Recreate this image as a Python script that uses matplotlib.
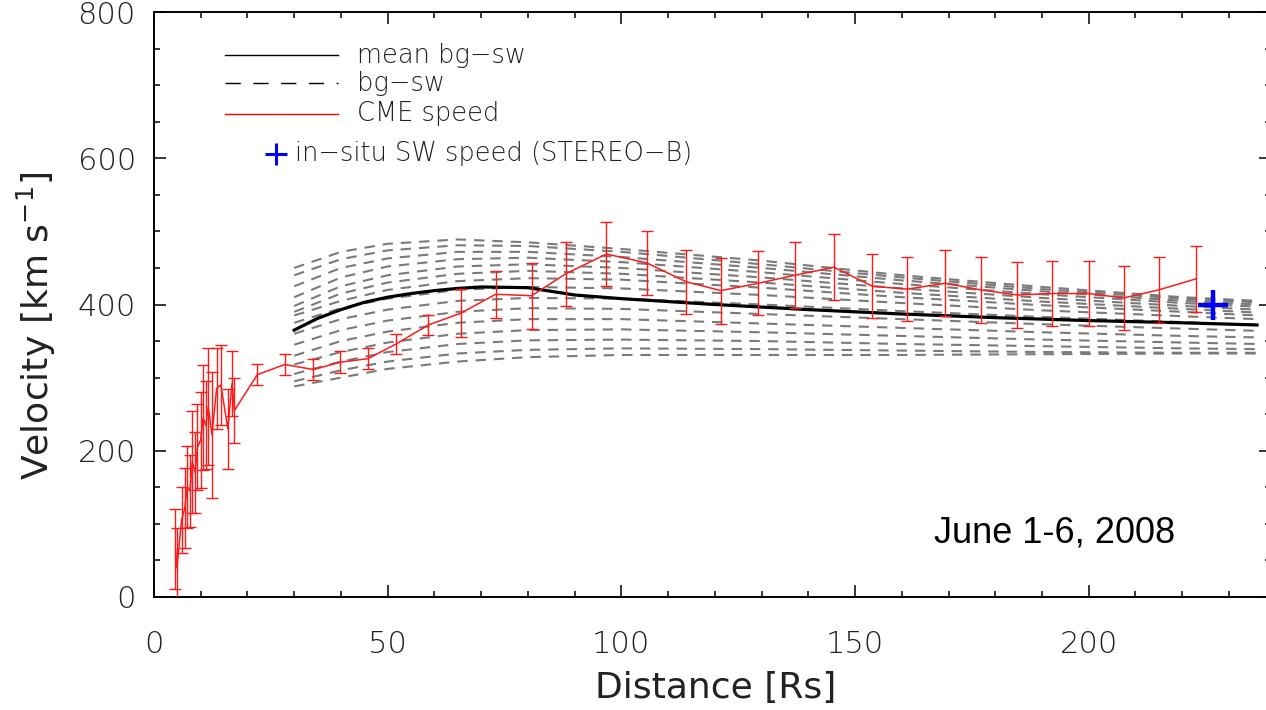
import matplotlib
matplotlib.use("Agg")
import matplotlib.pyplot as plt
from matplotlib.lines import Line2D
from matplotlib.ticker import MultipleLocator

plt.rcParams['font.family'] = ['DejaVu Sans']
plt.rcParams['font.weight'] = 'light'
plt.rcParams['mathtext.default'] = 'regular'

# Background solar-wind model runs (distance in Rs, speed in km/s)
bg_dist = [30, 40, 50, 65, 80, 100, 130, 160, 190, 220, 236]
bg_runs = [
    [450, 472, 483, 489, 485, 476, 460, 440, 424, 410, 405],
    [440, 462, 474, 481, 480, 472, 455, 437, 421, 408, 403],
    [425, 450, 463, 472, 472, 465, 450, 433, 418, 405, 400],
    [410, 437, 452, 462, 464, 458, 444, 428, 414, 402, 397],
    [398, 425, 440, 452, 455, 450, 437, 422, 409, 398, 393],
    [390, 415, 430, 442, 446, 442, 430, 416, 404, 394, 389],
    [385, 405, 420, 432, 436, 434, 423, 410, 399, 390, 385],
    [375, 395, 408, 420, 424, 422, 413, 402, 392, 384, 380],
    [360, 380, 393, 405, 409, 408, 400, 391, 383, 376, 372],
    [345, 365, 378, 390, 395, 394, 387, 380, 373, 367, 364],
    [330, 350, 363, 375, 380, 380, 374, 368, 362, 357, 355],
    [318, 335, 348, 360, 365, 366, 362, 357, 352, 348, 346],
    [305, 322, 335, 346, 351, 352, 350, 346, 343, 340, 339],
    [295, 310, 322, 333, 338, 340, 339, 337, 335, 334, 334],
    [288, 300, 312, 322, 328, 331, 331, 331, 332, 333, 333],
]

# Mean background solar wind
mean_dist = [30, 35, 40, 45, 50, 55, 60, 65, 70, 80, 85, 90, 100, 120, 140, 160, 180, 200, 220, 236]
mean_vel = [365, 381, 393, 403, 410, 415, 419, 422, 424, 423, 418, 413, 408, 400, 393, 387, 382, 378, 375, 372]

# CME speed profile with uncertainties
cme_dist = [4.6, 4.9, 5.9, 6.6, 7.1, 7.7, 8.2, 8.8, 9.3, 10.0, 10.5, 11.1, 11.6, 12.4,
            13.4, 14.3, 15.8, 16.7, 17.2, 22.1, 28.0, 34.1, 39.8, 45.8, 51.8, 58.7,
            65.6, 73.1, 80.8, 88.1, 96.8, 105.4, 113.9, 121.3, 129.3, 137.1, 145.5,
            153.7, 161.1, 169.3, 176.9, 184.7, 192.2, 200.0, 207.5, 215.0, 222.9]
cme_vel = [66, 40, 105, 122, 150, 145, 185, 170, 205, 215, 245, 235, 260, 222,
           285, 290, 230, 292, 255, 304, 318, 311, 321, 326, 346, 372,
           388, 414, 412, 442, 469, 457, 431, 419, 429, 440, 451,
           425, 421, 429, 420, 413, 415, 415, 409, 420, 435]
cme_err = [55, 54, 45, 55, 56, 49, 70, 55, 59, 66, 72, 60, 80, 86,
           55, 55, 55, 45, 45, 14, 14, 14, 15, 14, 13.5, 14,
           33, 32, 45, 44, 44, 44, 44, 45, 44, 45, 45,
           44, 44, 45, 45, 45, 45, 45, 44, 45, 45]

# In-situ measurement from STEREO-B
insitu_dist = [226.6]
insitu_vel = [400]

W, H = 1266, 710
fig = plt.figure(figsize=(W / 100, H / 100), dpi=100)
ax = fig.add_axes([154 / W, 113 / H, 1117 / W, 585 / H])

for run in bg_runs:
    ax.plot(bg_dist, run, color='#7a7a7a', lw=1.5, dashes=(5.0, 3.8), zorder=1)
ax.plot(mean_dist, mean_vel, color='black', lw=2.3, zorder=2)
ax.errorbar(cme_dist, cme_vel, yerr=cme_err, color='#ff1a1a', lw=1.1,
            elinewidth=1.0, capsize=4, capthick=1.0, zorder=3)
ax.plot(insitu_dist, insitu_vel, marker='+', color='#0000ff', ms=22, mew=3.2,
        ls='none', zorder=4)

ax.set_xlim(0, 239)
ax.set_ylim(0, 800)
ax.xaxis.set_major_locator(MultipleLocator(50))
ax.xaxis.set_minor_locator(MultipleLocator(10))
ax.yaxis.set_major_locator(MultipleLocator(200))
ax.yaxis.set_minor_locator(MultipleLocator(50))
ax.tick_params(which='both', direction='in', top=True, right=True, width=1.1,
               colors='black', labelsize=22)
ax.tick_params(which='major', length=8.6)
ax.tick_params(which='minor', length=4.3)
ax.tick_params(axis='x', which='major', pad=24)
ax.tick_params(axis='y', which='major', pad=13)
for sp in ax.spines.values():
    sp.set_linewidth(1.4)
for lab in ax.get_xticklabels() + ax.get_yticklabels():
    lab.set_color('#222222')

ax.set_xlabel('Distance [Rs]', fontsize=26, color='#222222')
ax.set_ylabel('Velocity [km s$^{-1}$]', fontsize=26, color='#222222')
ax.xaxis.set_label_coords(0.503, -0.156)
ax.yaxis.set_label_coords(-0.105, 0.463)
ax.xaxis.label.set_va('center')
ax.yaxis.label.set_va('center')

ax.text(167, 87, 'June 1-6, 2008', fontsize=26, family='Liberation Sans',
        weight='normal', ha='left', va='center', color='black')

# Legend entries
def fx(x):
    return x / W

def fy(y):
    return 1 - y / H

fig.add_artist(Line2D([fx(225), fx(338)], [fy(55), fy(55)], color='black', lw=1.0))
fig.add_artist(Line2D([fx(225), fx(338)], [fy(83), fy(83)], color='black', lw=1.0,
                      dashes=(11, 9)))
fig.add_artist(Line2D([fx(225), fx(338)], [fy(114), fy(114)], color='red', lw=1.0))
fig.add_artist(Line2D([fx(276)], [fy(154)], marker='+', color='#0000ff', ms=16,
                      mew=2.2, ls='none'))
legend_texts = [('mean bg\u2212sw', 55, 357), ('bg\u2212sw', 83, 357),
                ('CME speed', 114, 357), ('in\u2212situ SW speed (STEREO\u2212B)', 153, 295)]
for txt, y, x in legend_texts:
    fig.text(fx(x), fy(y), txt, fontsize=18.5, ha='left', va='center', color='#222222')

fig.savefig('out.png', dpi=100)
